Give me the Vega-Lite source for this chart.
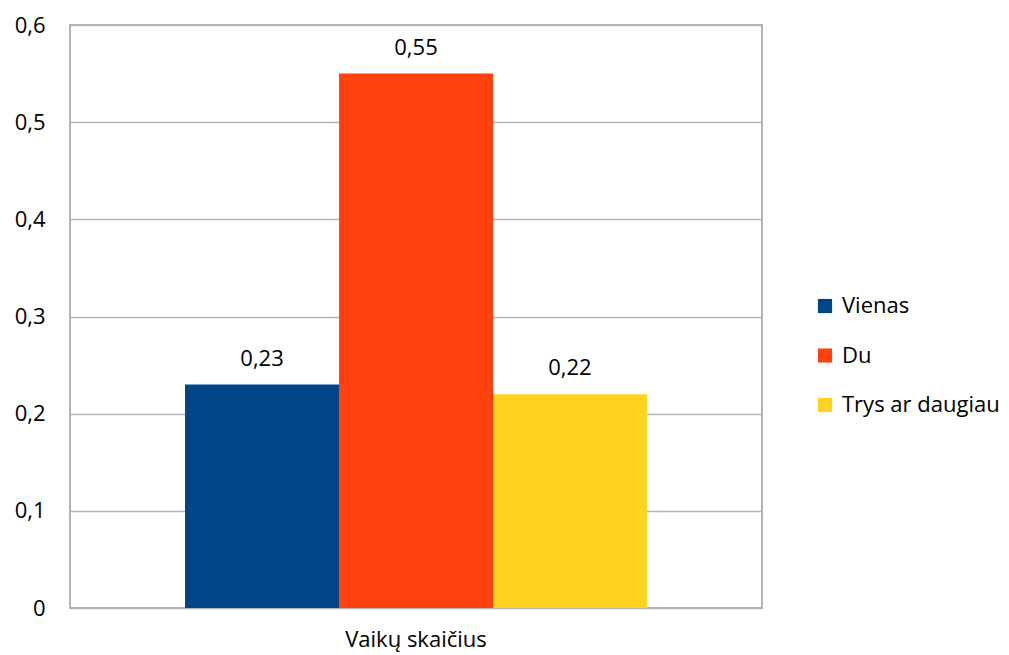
{
  "$schema": "https://vega.github.io/schema/vega-lite/v6.json",
  "width": 692,
  "height": 583,
  "autosize": "none",
  "padding": {"left": 70, "top": 25, "right": 247, "bottom": 47},
  "background": "white",
  "config": {
    "font": "Open Sans",
    "view": {"stroke": "#b3b3b3", "strokeWidth": 2},
    "axis": {"labelFont": "Open Sans", "labelFontSize": 22, "labelColor": "#000000", "titleFont": "Open Sans"},
    "legend": {"labelFont": "Open Sans", "labelFontSize": 22, "labelColor": "#000000"}
  },
  "data": {
    "values": [
      {"kategorija": "Vaikų skaičius", "serija": "Vienas", "reiksme": 0.23},
      {"kategorija": "Vaikų skaičius", "serija": "Du", "reiksme": 0.55},
      {"kategorija": "Vaikų skaičius", "serija": "Trys ar daugiau", "reiksme": 0.22}
    ]
  },
  "encoding": {
    "x": {
      "field": "kategorija",
      "type": "nominal",
      "scale": {"paddingInner": 0, "paddingOuter": 0},
      "axis": {"title": null, "labelAngle": 0, "ticks": false, "domain": false, "labelPadding": 21, "grid": false}
    },
    "xOffset": {
      "field": "serija",
      "type": "nominal",
      "sort": ["Vienas", "Du", "Trys ar daugiau"],
      "scale": {"paddingInner": 0, "paddingOuter": 0.747}
    },
    "y": {
      "field": "reiksme",
      "type": "quantitative",
      "scale": {"domain": [0, 0.6], "nice": false},
      "axis": {
        "title": null,
        "values": [0, 0.1, 0.2, 0.3, 0.4, 0.5, 0.6],
        "labelExpr": "replace(format(datum.value, '~g'), '.', ',')",
        "labelOverlap": false,
        "labelBound": false,
        "labelFlush": false,
        "ticks": false,
        "domain": false,
        "grid": true,
        "gridColor": "#b3b3b3",
        "gridWidth": 1.3,
        "labelPadding": 25
      }
    }
  },
  "layer": [
    {
      "mark": {"type": "bar"},
      "encoding": {
        "color": {
          "field": "serija",
          "type": "nominal",
          "sort": ["Vienas", "Du", "Trys ar daugiau"],
          "scale": {"domain": ["Vienas", "Du", "Trys ar daugiau"], "range": ["#004586", "#ff420e", "#ffd320"]},
          "legend": {
            "title": null,
            "orient": "none",
            "legendX": 744,
            "legendY": 270,
            "symbolType": "square",
            "symbolSize": 200,
            "symbolStrokeWidth": 0,
            "rowPadding": 27.5,
            "labelOffset": 6
          }
        }
      }
    },
    {
      "mark": {
        "type": "text",
        "baseline": "bottom",
        "dy": -14,
        "fontSize": 22,
        "color": "#000000",
        "text": {"expr": "replace(format(datum.reiksme, '.2f'), '.', ',')"}
      }
    }
  ]
}
